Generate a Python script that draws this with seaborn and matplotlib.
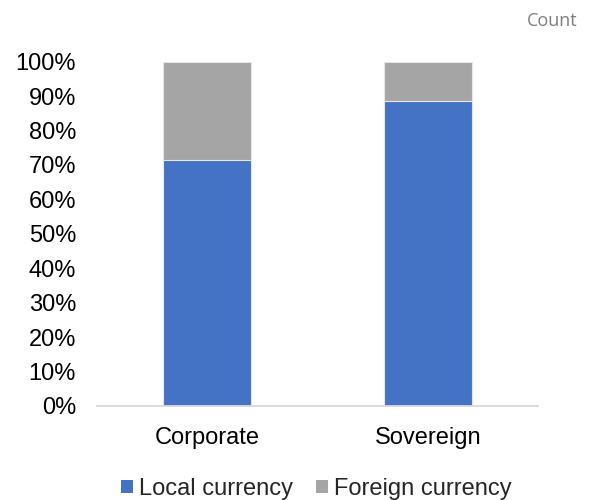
import matplotlib
matplotlib.use("Agg")
import matplotlib.pyplot as plt
from matplotlib.patches import Patch
from matplotlib.ticker import PercentFormatter
import seaborn as sns
import pandas as pd

# Share of bonds by currency of issuance (percent of count)
categories = ["Corporate", "Sovereign"]
local_share = [71.5, 88.6]
foreign_share = [28.5, 11.4]
series_labels = ["Local currency", "Foreign currency"]
y_ticks = [0, 10, 20, 30, 40, 50, 60, 70, 80, 90, 100]

BLUE = "#4472C4"
GREY = "#A5A5A5"

sns.set_theme(style="white")
plt.rcParams["font.family"] = ["Liberation Sans", "DejaVu Sans"]

df = pd.DataFrame({
    "category": categories,
    "local": local_share,
    "foreign": foreign_share,
})
df["total"] = df["local"] + df["foreign"]

fig = plt.figure(figsize=(5.91, 5.00), dpi=100)
ax = fig.add_axes([0.164, 0.188, 0.747, 0.6886])

# Stacked bars: full stack in grey, local share drawn over it in blue
sns.barplot(data=df, x="category", y="total", color=GREY, width=0.40,
            saturation=1, ax=ax, edgecolor="#E6E6E6", linewidth=0.8)
sns.barplot(data=df, x="category", y="local", color=BLUE, width=0.40,
            saturation=1, ax=ax, edgecolor="#E6E6E6", linewidth=0.8)

ax.set_ylim(0, 100)
ax.set_xlim(-0.5, 1.5)
ax.set_yticks(y_ticks)
ax.yaxis.set_major_formatter(PercentFormatter(decimals=0))
ax.set_xlabel("")
ax.set_ylabel("")
ax.tick_params(axis="y", length=0, pad=15, labelsize=17, labelcolor="black")
ax.tick_params(axis="x", length=0, pad=15, labelsize=17, labelcolor="black")

for side in ["left", "right", "top"]:
    ax.spines[side].set_visible(False)
ax.spines["bottom"].set_color("#D9D9D9")
ax.spines["bottom"].set_linewidth(1.3)
ax.grid(False)

handles = [Patch(facecolor=BLUE, edgecolor="none"),
           Patch(facecolor=GREY, edgecolor="none")]
fig.legend(handles, series_labels, loc="center", bbox_to_anchor=(0.535, 0.022),
           ncol=2, frameon=False, fontsize=17, handlelength=0.5,
           handleheight=0.5, handletextpad=0.25, columnspacing=1.0,
           borderpad=0.2)

fig.text(0.978, 0.958, "Count", ha="right", va="center", fontsize=13,
         color="#7F7F7F", family=["Open Sans", "DejaVu Sans"])

fig.savefig("out.png", dpi=100)
